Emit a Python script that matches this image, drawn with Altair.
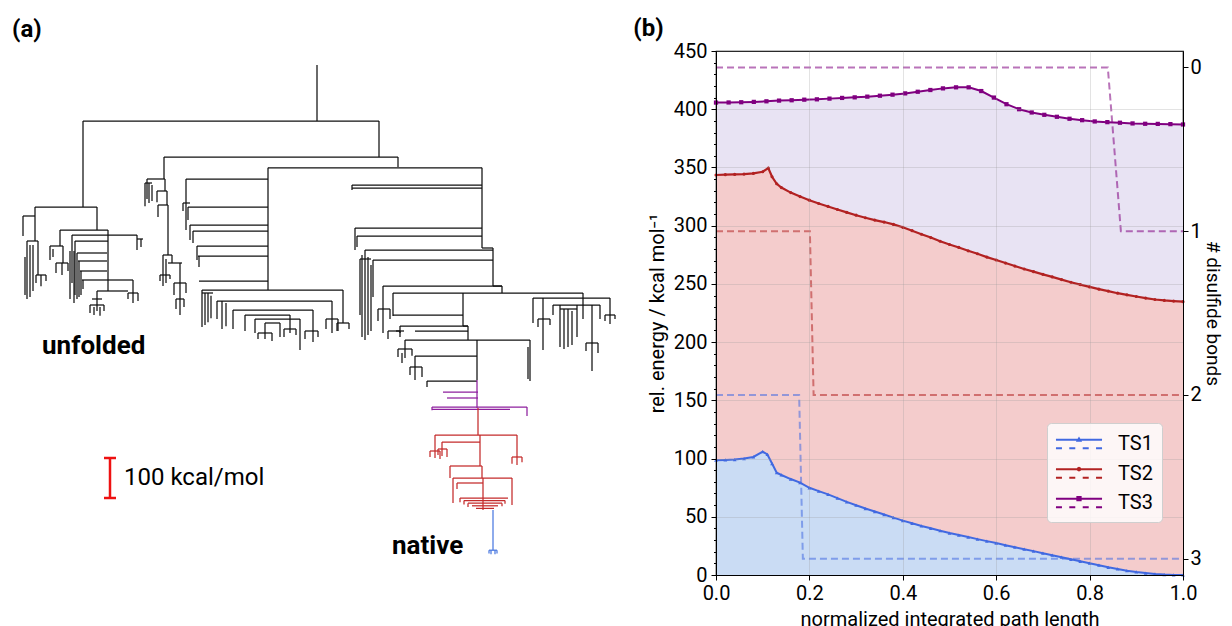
import altair as alt
import pandas as pd

# ======================= panel (b) data =======================
SERIES = ["TS1", "TS2", "TS3"]
LINE_COLORS = ["#4169e1", "#b22222", "#800080"]
FILL_COLORS = ["#cadcf4", "#f4cccc", "#e8e3f3"]
MARKERS = ["triangle-up", "circle", "square"]
MARKER_SIZES = [14, 10, 18]

TS1_X = [0.00, 0.02, 0.04, 0.06, 0.08, 0.10, 0.11, 0.12, 0.13, 0.14, 0.16, 0.18, 0.20,
         0.22, 0.24, 0.26, 0.28, 0.30, 0.32, 0.34, 0.36, 0.38, 0.40, 0.42, 0.44, 0.46,
         0.48, 0.50, 0.52, 0.54, 0.56, 0.58, 0.60, 0.62, 0.64, 0.66, 0.68, 0.70, 0.72,
         0.74, 0.76, 0.78, 0.80, 0.82, 0.84, 0.86, 0.88, 0.90, 0.92, 0.94, 0.96, 0.98, 1.00]
TS1_E = [98.6, 98.8, 99.1, 100.0, 101.4, 106.0, 103.5, 95.7, 87.9, 85.9, 82.4, 79.3, 74.9,
         72.0, 69.2, 66.0, 62.8, 59.9, 57.1, 54.5, 51.9, 49.3, 46.7, 44.4, 42.1, 40.1,
         38.0, 36.0, 34.3, 32.6, 30.8, 29.1, 27.4, 25.6, 23.9, 22.2, 20.5, 18.7, 17.0,
         15.3, 13.5, 11.8, 10.1, 8.4, 6.6, 5.2, 3.7, 2.6, 1.7, 0.9, 0.4, 0.1, 0.0]

TS2_X = [0.00, 0.02, 0.04, 0.06, 0.08, 0.10, 0.112, 0.12, 0.13, 0.14, 0.16, 0.18, 0.20,
         0.22, 0.24, 0.26, 0.28, 0.30, 0.32, 0.34, 0.36, 0.38, 0.40, 0.42, 0.44, 0.46,
         0.48, 0.50, 0.52, 0.54, 0.56, 0.58, 0.60, 0.62, 0.64, 0.66, 0.68, 0.70, 0.72,
         0.74, 0.76, 0.78, 0.80, 0.82, 0.84, 0.86, 0.88, 0.90, 0.92, 0.94, 0.96, 0.98, 1.00]
TS2_E = [343.5, 343.8, 344.0, 344.3, 344.9, 346.3, 349.5, 342.0, 336.0, 332.7, 328.4, 325.0, 321.9,
         319.0, 316.5, 313.9, 311.4, 309.0, 306.8, 304.8, 303.1, 301.1, 298.6, 295.7, 292.6, 289.8,
         286.6, 283.8, 281.3, 278.4, 275.9, 273.0, 270.5, 267.9, 265.3, 262.8, 260.5, 258.2, 256.0,
         253.7, 251.4, 249.4, 247.4, 245.5, 243.8, 242.0, 240.6, 239.2, 237.8, 236.6, 235.8, 235.2, 234.7]

TS3_X = [0.000, 0.027, 0.054, 0.081, 0.108, 0.135, 0.162, 0.189, 0.216, 0.243, 0.270, 0.297,
         0.324, 0.351, 0.378, 0.405, 0.432, 0.459, 0.486, 0.514, 0.541, 0.568, 0.595, 0.622,
         0.649, 0.676, 0.703, 0.730, 0.757, 0.784, 0.811, 0.838, 0.865, 0.892, 0.919, 0.946,
         0.973, 1.000]
TS3_E = [405.7, 405.8, 406.0, 406.3, 406.8, 407.4, 407.7, 408.2, 408.5, 409.1, 409.7, 410.2,
         410.8, 411.6, 412.5, 413.6, 415.0, 416.5, 417.9, 418.8, 418.8, 415.6, 410.0, 404.3,
         400.0, 397.2, 395.2, 393.5, 391.8, 390.6, 389.5, 388.9, 388.4, 387.8, 387.5, 387.4,
         387.2, 386.9]

TS1_BOND_X = [0.0, 0.178, 0.186, 1.0]
TS1_BONDS = [2, 2, 3, 3]
TS2_BOND_X = [0.0, 0.201, 0.209, 1.0]
TS2_BONDS = [1, 1, 2, 2]
TS3_BOND_X = [0.0, 0.839, 0.867, 1.0]
TS3_BONDS = [0, 0, 1, 1]

X_TICKS = [0.0, 0.2, 0.4, 0.6, 0.8, 1.0]
Y_TICKS = list(range(0, 451, 10))
BOND_TICKS = [0, 1, 2, 3]

# ======================= panel (a) data =======================
# disconnectivity graph: horizontal (x_left, x_right, energy) and vertical (x, e_top, e_bottom)
BLACK_H = [
    (83, 379, 1085), (164, 398, 995), (268, 482, 968),
    (35, 97, 870), (23, 35, 847.5), (27, 38, 785), (36, 46, 700),
    (60, 108, 812.5), (50, 63, 772.5), (56, 68, 730), (72, 137, 800), (137, 143, 790),
    (75, 108, 785), (77, 107, 755), (78, 107, 735), (80, 107, 710), (82, 107, 687.5),
    (107, 133, 687.5), (128, 138, 655), (97, 128, 660), (90, 104, 625), (92, 102, 640),
    (147, 165, 940), (145, 152, 930), (157, 167, 910), (158, 168, 875), (163, 172, 750),
    (160, 170, 700), (168, 182, 730), (174, 186, 680), (176, 184, 640),
    (186, 268, 940), (183, 190, 880), (188, 268, 870), (190, 268, 825), (193, 268, 810),
    (197, 268, 772.5), (198, 268, 747.5), (199, 268, 685), (202, 343, 662.5),
    (202, 213, 655), (217, 332, 635), (233, 313, 612.5), (245, 290, 600), (255, 300, 590),
    (265, 280, 580), (258, 272, 555), (284, 296, 565), (305, 318, 560), (326, 338, 590),
    (337, 349, 580),
    (352, 482, 925), (352, 482, 917.5), (355, 482, 817.5), (357, 482, 797.5),
    (482, 493, 767.5), (365, 493, 762.5), (360, 371, 740), (373, 493, 737.5),
    (493, 502, 672.5), (383, 502, 672.5), (378, 390, 615), (393, 583, 655),
    (388, 400, 560), (533, 610, 642.5), (538, 550, 590), (553, 600, 625), (560, 577, 615),
    (586, 598, 530), (605, 615, 600),
    (393, 463, 600), (463, 468, 572.5), (400, 468, 572.5), (396, 404, 560), (415, 468, 560),
    (405, 530, 537.5), (398, 412, 515), (415, 477, 497.5), (410, 422, 470), (427, 477, 435),
]
BLACK_V = [
    (317, 1225, 1085), (83, 1085, 870), (379, 1085, 995), (398, 995, 970), (164, 995, 940),
    (268, 968, 662.5), (482, 968, 767.5),
    (35, 870, 785), (23, 847.5, 797.5), (27, 785, 640), (30, 775, 645), (33, 775, 660),
    (38, 785, 700), (36, 700, 680), (41, 700, 672), (46, 700, 685), (25, 745, 650),
    (97, 870, 812.5), (60, 812.5, 772.5), (50, 772.5, 737.5), (53, 765, 745), (63, 772.5, 730),
    (56, 730, 705), (62, 730, 700), (68, 730, 710), (72, 800, 680), (70, 760, 640), (74, 760, 630),
    (137, 800, 762.5), (141, 790, 770), (108, 812.5, 660), (75, 785, 650), (77, 755, 640),
    (79, 735, 645), (81, 710, 650), (83, 687.5, 665), (133, 687.5, 630), (128, 655, 640),
    (138, 655, 635), (97, 660, 610), (90, 625, 605), (94, 620, 600), (100, 620, 598),
    (104, 625, 610),
    (147, 940, 890), (145, 930, 872), (149, 930, 880), (152, 925, 885), (165, 940, 910),
    (157, 910, 882), (167, 910, 875), (158, 875, 845), (168, 875, 750), (163, 750, 672.5),
    (166, 740, 680), (160, 700, 685), (170, 700, 690), (172, 750, 730), (180, 730, 600),
    (174, 680, 650), (186, 680, 655), (176, 640, 615), (184, 640, 620),
    (186, 940, 812.5), (183, 880, 860), (188, 870, 837.5), (190, 825, 787.5), (193, 810, 780),
    (197, 772.5, 737.5), (199, 747.5, 720),
    (202, 662.5, 570), (205, 655, 575), (208, 655, 582), (211, 648, 592), (222, 635, 565),
    (226, 630, 572), (217, 635, 590), (233, 612.5, 565), (313, 612.5, 532.5), (245, 600, 560),
    (290, 600, 555), (255, 590, 555), (300, 590, 512.5), (265, 580, 540), (280, 580, 545),
    (258, 555, 540), (272, 555, 535), (284, 565, 545), (296, 565, 550), (305, 560, 540),
    (318, 560, 545), (332, 635, 555), (326, 590, 565), (338, 590, 560), (343, 662.5, 580),
    (337, 580, 560), (349, 580, 565),
    (352, 925, 912.5), (355, 817.5, 762.5), (357, 797.5, 770), (493, 767.5, 672.5),
    (365, 762.5, 537.5), (362, 750, 545), (368, 745, 550), (371, 725, 560), (360, 740, 600),
    (373, 737.5, 645), (502, 672.5, 655), (383, 672.5, 555), (378, 615, 585), (390, 615, 590),
    (393, 655, 597.5), (388, 560, 540), (400, 560, 545), (583, 655, 642.5),
    (533, 642.5, 580), (543, 642.5, 512.5), (538, 590, 570), (550, 590, 575), (553, 625, 600),
    (560, 625, 520), (564, 615, 515), (568, 615, 520), (572, 610, 525), (577, 625, 545),
    (583, 642.5, 590), (592, 625, 460), (586, 530, 510), (598, 530, 505), (600, 625, 590),
    (610, 642.5, 577.5), (605, 600, 585), (615, 600, 590),
    (463, 655, 572.5), (468, 572.5, 537.5), (400, 572.5, 555), (405, 537.5, 492.5),
    (398, 515, 495), (412, 515, 498), (402, 505, 480), (530, 537.5, 435), (528, 520, 440),
    (477, 537.5, 437.5), (415, 497.5, 437.5), (410, 470, 450), (422, 470, 445), (427, 435, 420),
]
PURPLE_H = [(443, 478, 407.5), (447, 478, 392.5), (432, 527, 370), (432, 510, 364)]
PURPLE_V = [(477, 437.5, 367.5), (527, 370, 347.5), (432, 370, 362)]
RED_H = [
    (435, 517, 300), (430, 440, 260), (512, 522, 245), (442, 480, 282.5), (438, 447, 265),
    (450, 482, 222.5), (453, 512, 192.5), (457, 483, 180), (460, 508, 142.5), (464, 505, 136),
    (468, 502, 129.5), (472, 498, 123), (476, 494, 116.5),
]
RED_V = [
    (478, 367.5, 300), (435, 300, 242.5), (430, 260, 245), (440, 260, 240), (517, 300, 225),
    (512, 245, 228), (522, 245, 232), (442, 282.5, 247.5), (438, 265, 250), (447, 265, 245),
    (480, 300, 222.5), (450, 222.5, 192.5), (482, 222.5, 192.5), (453, 192.5, 130),
    (512, 192.5, 125), (457, 180, 165), (483, 192.5, 112.5), (460, 142.5, 132),
    (464, 136, 126), (468, 129.5, 120), (505, 136, 128), (502, 129.5, 122),
]
BLUE_H = [(489, 497, 12)]
BLUE_V = [(493, 112.5, 12), (489, 12, 4), (491, 12, 2), (495, 12, 2), (497, 12, 4)]

SCALEBAR_H = [(104, 116, 242.5), (104, 116, 142.5)]
SCALEBAR_V = [(110, 242.5, 142.5)]

TREE_COLORS = {"black": "#111111", "purple": "#8e1f9e", "red": "#c42b2b", "blue": "#4a78e0"}

LABELS = ["unfolded", "native"]
LABEL_X = [42, 392]
LABEL_E = [522.5, 22.5]
SCALE_TEXT = ["100 kcal/mol"]
SCALE_TEXT_X = [124]
SCALE_TEXT_E = [192.5]

FONT = "Roboto"

# ======================= build panel (a) =======================
rows = []
for name, hs, vs in [("black", BLACK_H, BLACK_V), ("purple", PURPLE_H, PURPLE_V),
                     ("red", RED_H, RED_V), ("blue", BLUE_H, BLUE_V)]:
    for x1, x2, e in hs:
        rows.append({"x1": x1, "x2": x2, "e1": e, "e2": e, "c": TREE_COLORS[name]})
    for x, e1, e2 in vs:
        rows.append({"x1": x, "x2": x, "e1": e1, "e2": e2, "c": TREE_COLORS[name]})
tree = pd.DataFrame(rows)

bar_rows = [{"x1": a, "x2": b, "e1": e, "e2": e} for a, b, e in SCALEBAR_H] + \
           [{"x1": x, "x2": x, "e1": a, "e2": b} for x, a, b in SCALEBAR_V]
bar = pd.DataFrame(bar_rows)

xs_a = alt.Scale(domain=[8, 628], nice=False, zero=False)
ys_a = alt.Scale(domain=[-50, 1260], nice=False, zero=False)

tree_layer = alt.Chart(tree).mark_rule(strokeWidth=1.25).encode(
    x=alt.X("x1:Q", scale=xs_a, axis=None), x2="x2:Q",
    y=alt.Y("e1:Q", scale=ys_a, axis=None), y2="e2:Q",
    color=alt.Color("c:N", scale=None),
)
bar_layer = alt.Chart(bar).mark_rule(strokeWidth=2.5, color="#ee1111").encode(
    x=alt.X("x1:Q", scale=xs_a, axis=None), x2="x2:Q",
    y=alt.Y("e1:Q", scale=ys_a, axis=None), y2="e2:Q",
)
lab_df = pd.DataFrame({"t": LABELS, "x": LABEL_X, "e": LABEL_E})
lab_layer = alt.Chart(lab_df).mark_text(align="left", baseline="middle", fontSize=26,
                                        fontWeight="bold", font=FONT, color="black").encode(
    x=alt.X("x:Q", scale=xs_a, axis=None), y=alt.Y("e:Q", scale=ys_a, axis=None), text="t:N")
st_df = pd.DataFrame({"t": SCALE_TEXT, "x": SCALE_TEXT_X, "e": SCALE_TEXT_E})
st_layer = alt.Chart(st_df).mark_text(align="left", baseline="middle", fontSize=24,
                                      font=FONT, color="black").encode(
    x=alt.X("x:Q", scale=xs_a, axis=None), y=alt.Y("e:Q", scale=ys_a, axis=None), text="t:N")

left = alt.layer(tree_layer, bar_layer, lab_layer, st_layer).properties(
    width=620, height=524,
    title=alt.TitleParams("(a)", anchor="start", frame="group", dx=4, fontSize=24,
                          fontWeight="bold", font=FONT, color="black", offset=9.5),
    view=alt.ViewBackground(strokeOpacity=0),
)

# ======================= build panel (b) =======================
prof = pd.concat([
    pd.DataFrame({"s": "TS1", "x": TS1_X, "E": TS1_E}),
    pd.DataFrame({"s": "TS2", "x": TS2_X, "E": TS2_E}),
    pd.DataFrame({"s": "TS3", "x": TS3_X, "E": TS3_E}),
], ignore_index=True)
bonds = pd.concat([
    pd.DataFrame({"s": "TS1", "x": TS1_BOND_X, "b": TS1_BONDS}),
    pd.DataFrame({"s": "TS2", "x": TS2_BOND_X, "b": TS2_BONDS}),
    pd.DataFrame({"s": "TS3", "x": TS3_BOND_X, "b": TS3_BONDS}),
], ignore_index=True)

AX = dict(labelFont=FONT, titleFont=FONT, labelFontSize=20, titleFontSize=20,
          labelColor="black", titleColor="black", domainColor="black", tickColor="black",
          titleFontWeight="normal")

X = alt.X("x:Q", scale=alt.Scale(domain=[0, 1], nice=False, zero=False),
          axis=alt.Axis(values=X_TICKS, format=".1f", title="normalized integrated path length",
                        grid=True, gridColor="#9a9a9a", gridOpacity=0.35, gridWidth=0.8,
                        labelFlush=False, tickSize=5, labelPadding=3, titlePadding=6,
                        zindex=1, **AX))
E_SCALE = alt.Scale(domain=[0, 450], nice=False, zero=False)
Y_AXIS = alt.Axis(values=Y_TICKS, labelExpr="datum.value % 50 === 0 ? datum.label : ''",
                  tickSize={"condition": {"test": "datum.value % 50 === 0", "value": 5}, "value": 2.5},
                  gridOpacity={"condition": {"test": "datum.value % 50 === 0", "value": 0.35}, "value": 0},
                  gridColor="#9a9a9a", gridWidth=0.8, grid=True, labelOverlap=False,
                  labelPadding=4, titlePadding=6,
                  title="rel. energy / kcal mol⁻¹", zindex=1, **AX)
Y_MAIN = alt.Y("E:Q", scale=E_SCALE, axis=Y_AXIS)
Y_PLAIN = alt.Y("E:Q", scale=E_SCALE, axis=None)
B_SCALE = alt.Scale(domain=[-0.1, 3.1], reverse=True, nice=False, zero=False)
B_AXIS = alt.Axis(orient="right", values=BOND_TICKS, format="d", grid=False,
                  title="# disulfide bonds", tickSize=5, labelPadding=2, titlePadding=1,
                  zindex=1, labelFont=FONT, titleFont=FONT, labelFontSize=20, titleFontSize=19,
                  labelColor="black", titleColor="black", domainColor="black", tickColor="black",
                  titleFontWeight="normal")
Y_BOND = alt.Y("b:Q", scale=B_SCALE, axis=B_AXIS)

areas = alt.layer(*[
    alt.Chart(prof).transform_filter(alt.datum.s == s).mark_area(color=FILL_COLORS[i], opacity=1)
    .encode(x=X, y=Y_MAIN)
    for i, s in [(2, "TS3"), (1, "TS2"), (0, "TS1")]
])

bonds_layer = alt.layer(*[
    alt.Chart(bonds).transform_filter(alt.datum.s == s)
    .mark_line(color=LINE_COLORS[i], strokeDash=[7, 4], strokeWidth=2, opacity=0.55)
    .encode(x=X, y=Y_BOND)
    for i, s in enumerate(SERIES)
])

# legend symbols: solid line with marker above a dashed line
SOLID = "M-1.92,-0.44H1.92V-0.28H-1.92Z"
DASH = ("M-1.92,0.28H-1.42V0.44H-1.92Z M-0.81,0.28H-0.31V0.44H-0.81Z "
        "M0.31,0.28H0.81V0.44H0.31Z M1.42,0.28H1.92V0.44H1.42Z")
TRI = "M-0.26,-0.18L0,-0.62L0.26,-0.18Z"
CIRC = "M0.2,-0.36L0.14,-0.22L0,-0.16L-0.14,-0.22L-0.2,-0.36L-0.14,-0.5L0,-0.56L0.14,-0.5Z"
SQ = "M-0.22,-0.58H0.22V-0.14H-0.22Z"
LEGEND_SHAPES = [SOLID + " " + DASH + " " + TRI, SOLID + " " + DASH + " " + CIRC,
                 SOLID + " " + DASH + " " + SQ]

lines = alt.layer(*[
    alt.Chart(prof).transform_filter(alt.datum.s == s)
    .mark_line(color=LINE_COLORS[i], strokeWidth=[2.0, 2.2, 2.0][i]).encode(x=X, y=Y_PLAIN)
    for i, s in enumerate(SERIES)
])
markers = alt.layer(*[
    alt.Chart(prof).transform_filter(alt.datum.s == s)
    .mark_point(filled=True, opacity=1, shape=MARKERS[i], size=MARKER_SIZES[i], color=LINE_COLORS[i])
    .encode(x=X, y=Y_PLAIN)
    for i, s in enumerate(SERIES)
])

LEG = dict(title=None, orient="none", legendX=1039, legendY=372,
           symbolSize=576, symbolStrokeWidth=0, symbolOpacity=1, symbolOffset=11,
           labelOffset=27, labelFontSize=20, labelFont=FONT, labelColor="black",
           labelExpr="datum.label + '         '",
           rowPadding=7.5, padding=9, fillColor="rgba(255,255,255,0.82)",
           strokeColor="#cfcfcf", cornerRadius=4)
legend_layer = alt.Chart(prof).mark_point(filled=True, opacity=0).encode(
    x=X, y=Y_PLAIN,
    color=alt.Color("s:N", scale=alt.Scale(domain=SERIES, range=LINE_COLORS), legend=alt.Legend(**LEG)),
    shape=alt.Shape("s:N", scale=alt.Scale(domain=SERIES, range=LEGEND_SHAPES), legend=alt.Legend(**LEG)),
)
energy_top = alt.layer(lines, markers, legend_layer)

right = alt.layer(areas, bonds_layer, energy_top).resolve_scale(y="independent").properties(
    width=467, height=524,
    title=alt.TitleParams("(b)", anchor="start", frame="bounds", dx=-14, fontSize=24,
                          fontWeight="bold", font=FONT, color="black", offset=0.5),
    view=alt.ViewBackground(stroke="black", strokeWidth=1.2),
)

chart = alt.hconcat(left, right, spacing=4).properties(
    padding={"left": 0, "top": 7, "right": 0, "bottom": 0}
).configure(font=FONT)

chart.save("out.html", embed_options={"renderer": "svg", "actions": False})
